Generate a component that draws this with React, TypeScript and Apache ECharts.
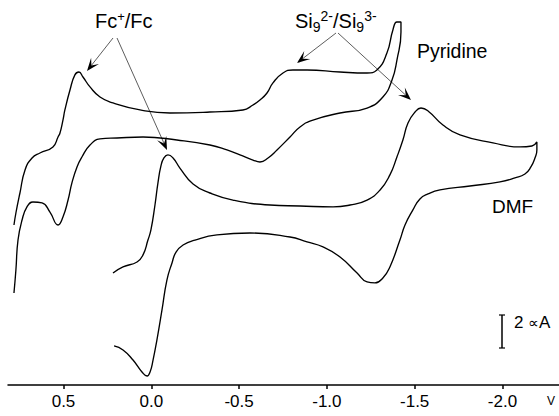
import React, { useEffect, useRef } from "react";
import * as echarts from "echarts";

// x: potential (V), y: current (µA, arbitrary offset)
const xTicks = [0.5, 0.0, -0.5, -1.0, -1.5, -2.0];

const pyridineForward: [number, number][] = [
  [0.782, 10.0], [0.771, 10.75], [0.748, 12.0], [0.719, 13.44], [0.679, 14.19], [0.634, 14.5],
  [0.56, 14.88], [0.531, 15.5], [0.52, 15.75], [0.503, 16.56], [0.492, 17.19], [0.463, 18.44],
  [0.435, 19.38], [0.412, 19.56], [0.389, 19.25], [0.349, 18.63], [0.292, 18.0], [0.218, 17.63],
  [0.064, 17.19], [-0.106, 17.0], [-0.334, 17.06], [-0.522, 17.19], [-0.579, 17.5], [-0.619, 17.81],
  [-0.659, 18.25], [-0.693, 18.88], [-0.75, 19.5], [-0.807, 19.69], [-0.887, 19.69], [-1.075, 19.56],
  [-1.229, 19.5], [-1.285, 19.69], [-1.342, 20.75], [-1.376, 22.19], [-1.399, 22.69], [-1.422, 22.69],
];
const pyridineReverse: [number, number][] = [
  [-1.422, 22.06], [-1.399, 20.31], [-1.371, 19.06], [-1.319, 18.0], [-1.229, 17.31], [-1.075, 17.0],
  [-0.921, 16.56], [-0.847, 16.13], [-0.79, 15.5], [-0.716, 14.69], [-0.665, 14.19], [-0.619, 13.94],
  [-0.579, 14.06], [-0.505, 14.38], [-0.431, 14.69], [-0.334, 15.0], [-0.146, 15.31], [0.047, 15.5],
  [0.195, 15.44], [0.292, 15.38], [0.349, 15.0], [0.395, 14.25], [0.423, 13.63], [0.452, 12.63],
  [0.474, 11.56], [0.503, 10.5], [0.531, 10.0], [0.577, 10.81], [0.622, 11.38], [0.674, 11.44],
  [0.708, 11.13], [0.736, 10.31], [0.759, 9.06], [0.771, 7.19], [0.782, 5.75],
];
const dmfForward: [number, number][] = [
  [0.218, 7.0], [0.161, 7.38], [0.081, 7.69], [0.047, 8.13], [0.019, 9.06], [0.002, 9.69],
  [-0.021, 11.25], [-0.038, 12.63], [-0.055, 13.69], [-0.072, 14.19], [-0.095, 14.38], [-0.124, 14.19],
  [-0.163, 13.56], [-0.238, 12.56], [-0.334, 12.0], [-0.465, 11.56], [-0.676, 11.25], [-0.847, 11.19],
  [-1.035, 11.13], [-1.132, 11.25], [-1.229, 11.56], [-1.303, 12.19], [-1.359, 13.13], [-1.399, 14.25],
  [-1.433, 15.31], [-1.462, 16.38], [-1.502, 17.06], [-1.536, 17.31], [-1.576, 17.13], [-1.661, 16.25],
  [-1.758, 15.63], [-1.946, 15.13], [-2.1, 14.88], [-2.168, 14.94], [-2.196, 15.19],
];
const dmfReverse: [number, number][] = [
  [-2.196, 14.69], [-2.185, 14.19], [-2.162, 13.63], [-2.128, 13.19], [-2.071, 12.94], [-1.986, 12.69],
  [-1.815, 12.44], [-1.644, 12.19], [-1.576, 11.94], [-1.53, 11.63], [-1.49, 10.94], [-1.445, 10.0],
  [-1.416, 9.06], [-1.359, 7.38], [-1.319, 6.69], [-1.274, 6.38], [-1.229, 6.44], [-1.172, 7.0],
  [-1.075, 8.0], [-0.978, 8.63], [-0.887, 8.94], [-0.79, 9.25], [-0.562, 9.5], [-0.374, 9.38],
  [-0.249, 9.06], [-0.181, 8.75], [-0.141, 8.31], [-0.118, 7.63], [-0.089, 6.56], [-0.061, 4.69],
  [-0.032, 2.81], [-0.01, 1.56], [0.007, 0.81], [0.024, 0.56], [0.053, 0.81], [0.104, 1.56],
  [0.161, 2.19], [0.212, 2.44],
];

const FONT = '"Liberation Sans", Arial, Helvetica, sans-serif';
const SYMBOL_FONT = '"DejaVu Sans", sans-serif';

let measureCtx: CanvasRenderingContext2D | null = null;
function measure(text: string, size: number, family: string): number {
  if (!measureCtx) measureCtx = document.createElement("canvas").getContext("2d");
  if (!measureCtx) return text.length * size * 0.55;
  measureCtx.font = `${size}px ${family}`;
  return measureCtx.measureText(text).width;
}

type Run = { t: string; fs: number; dy?: number; family?: string };
function textRuns(x0: number, baseline: number, parts: Run[]) {
  let x = x0;
  const els: any[] = [];
  for (const p of parts) {
    const family = p.family || FONT;
    els.push({
      type: "text",
      silent: true,
      style: {
        text: p.t,
        x,
        y: baseline + (p.dy || 0) - 0.3465 * p.fs,
        font: `${p.fs}px ${family}`,
        fill: "#000",
        textAlign: "left",
        textVerticalAlign: "middle",
        verticalAlign: "middle",
      },
    });
    x += measure(p.t, p.fs, family);
  }
  return els;
}

function arrow(ox: number, oy: number, tx: number, ty: number) {
  const dx = tx - ox;
  const dy = ty - oy;
  const len = Math.hypot(dx, dy);
  const ux = dx / len;
  const uy = dy / len;
  const nx = -uy;
  const ny = ux;
  const L = 13;
  const W = 5;
  const notch = 0.55 * L;
  return [
    {
      type: "line",
      silent: true,
      shape: { x1: ox, y1: oy, x2: tx - ux * notch, y2: ty - uy * notch },
      style: { stroke: "#333", lineWidth: 0.8 },
    },
    {
      type: "polygon",
      silent: true,
      shape: {
        points: [
          [tx, ty],
          [tx - ux * L + nx * W, ty - uy * L + ny * W],
          [tx - ux * notch, ty - uy * notch],
          [tx - ux * L - nx * W, ty - uy * L - ny * W],
        ],
      },
      style: { fill: "#000" },
    },
  ];
}

export default function App() {
  const ref = useRef<HTMLDivElement>(null);
  useEffect(() => {
    if (!ref.current) return;
    const chart = echarts.init(ref.current, undefined, { renderer: "svg" });

    const graphics: any[] = [
      ...arrow(113, 38, 87, 71),
      ...arrow(117, 38, 167, 150),
      ...arrow(336, 33, 297, 63),
      ...arrow(338, 33, 411, 100),
      ...textRuns(95, 28, [
        { t: "Fc", fs: 20 },
        { t: "+", fs: 13, dy: -7 },
        { t: "/Fc", fs: 20 },
      ]),
      ...textRuns(295, 28, [
        { t: "Si", fs: 20 },
        { t: "9", fs: 14, dy: 4 },
        { t: "2-", fs: 14, dy: -7 },
        { t: "/Si", fs: 20 },
        { t: "9", fs: 14, dy: 4 },
        { t: "3-", fs: 14, dy: -7 },
      ]),
      ...textRuns(417, 58, [{ t: "Pyridine", fs: 19.5 }]),
      ...textRuns(492, 213, [{ t: "DMF", fs: 19 }]),
      ...textRuns(514, 328, [
        { t: "2 ", fs: 17 },
        { t: "\u221D", fs: 15, family: SYMBOL_FONT },
        { t: "A", fs: 17 },
      ]),
      ...textRuns(547, 405, [{ t: "V", fs: 12 }]),
      {
        type: "line",
        silent: true,
        shape: { x1: 502, y1: 315, x2: 502, y2: 348 },
        style: { stroke: "#000", lineWidth: 1.5 },
      },
      {
        type: "line",
        silent: true,
        shape: { x1: 499, y1: 315, x2: 505, y2: 315 },
        style: { stroke: "#000", lineWidth: 1.2 },
      },
      {
        type: "line",
        silent: true,
        shape: { x1: 499, y1: 348, x2: 505, y2: 348 },
        style: { stroke: "#000", lineWidth: 1.2 },
      },
    ];

    chart.setOption({
      animation: false,
      backgroundColor: "#fff",
      grid: { left: 8, right: 0, top: 0, bottom: 31, containLabel: false },
      xAxis: {
        type: "value",
        min: -2.322,
        max: 0.816,
        inverse: true,
        axisLine: { onZero: false, lineStyle: { color: "#000", width: 1.5 } },
        axisTick: {
          customValues: xTicks,
          length: 4,
          lineStyle: { color: "#000", width: 1.5 },
        },
        axisLabel: {
          customValues: xTicks,
          margin: 8,
          color: "#000",
          fontSize: 17,
          fontFamily: FONT,
          formatter: (v: number) => (Math.abs(v) < 1e-9 ? "0.0" : v.toFixed(1)),
        },
        splitLine: { show: false },
      },
      yAxis: { type: "value", min: 0, max: 24.0625, show: false },
      series: [
        {
          name: "Pyridine",
          type: "line",
          data: [...pyridineForward, ...pyridineReverse],
          showSymbol: false,
          smooth: 0.5,
          lineStyle: { color: "#000", width: 1.35 },
        },
        {
          name: "DMF",
          type: "line",
          data: [...dmfForward, ...dmfReverse],
          showSymbol: false,
          smooth: 0.5,
          lineStyle: { color: "#000", width: 1.35 },
        },
      ],
      graphic: graphics,
    });
    return () => chart.dispose();
  }, []);
  return (
    <div
      ref={ref}
      style={{ position: "fixed", left: 0, top: 0, width: 559, height: 416, background: "#fff" }}
    />
  );
}
